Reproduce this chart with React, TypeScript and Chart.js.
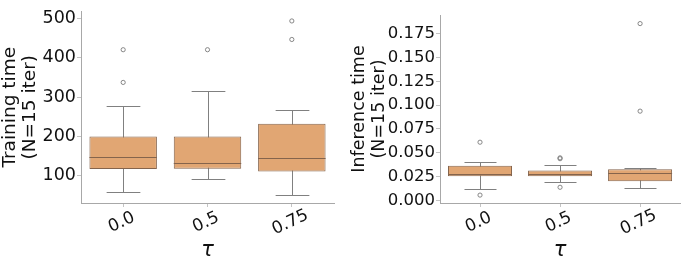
import React, { useEffect, useRef } from 'react';
import { Chart, registerables } from 'chart.js';

Chart.register(...registerables);

const tauLabels = ['0.0', '0.5', '0.75'];

// Training time (left panel)
const trainWhiskerLow = [60, 92, 52];
const trainQ1 = [117, 118, 111];
const trainMedian = [148, 133, 144];
const trainQ3 = [200, 200, 232];
const trainWhiskerHigh = [278, 314, 268];
const trainOutliers = [
  { x: '0.0', y: 420 },
  { x: '0.0', y: 337 },
  { x: '0.5', y: 420 },
  { x: '0.75', y: 446 },
  { x: '0.75', y: 493 },
];
const trainTicks = [100, 200, 300, 400, 500];

// Inference time (right panel)
const inferWhiskerLow = [0.012, 0.0196, 0.0134];
const inferQ1 = [0.0254, 0.0254, 0.02];
const inferMedian = [0.0279, 0.0272, 0.0292];
const inferQ3 = [0.0362, 0.0313, 0.0327];
const inferWhiskerHigh = [0.0406, 0.0372, 0.0341];
const inferOutliers = [
  { x: '0.0', y: 0.061 },
  { x: '0.0', y: 0.0055 },
  { x: '0.5', y: 0.0437 },
  { x: '0.5', y: 0.0446 },
  { x: '0.5', y: 0.0137 },
  { x: '0.75', y: 0.0936 },
  { x: '0.75', y: 0.1855 },
];
const inferTicks = [0, 0.025, 0.05, 0.075, 0.1, 0.125, 0.15, 0.175];

const FONT = '"DejaVu Sans", sans-serif';
const BOX_FILL = '#E1A673';
const BOX_EDGE = '#85644c';
const WHISKER = '#808080';
const AXIS = '#a8a8a8';

type PanelProps = {
  width: number;
  low: number[];
  q1: number[];
  median: number[];
  q3: number[];
  high: number[];
  outliers: { x: string; y: number }[];
  ticks: number[];
  yMin: number;
  yMax: number;
  decimals: number;
  title: string[];
  titleSize: number;
  titlePad: number;
  tickSize: number;
  yWidth: number;
  padTop: number;
  padRight: number;
};

function BoxPanel(p: PanelProps) {
  const ref = useRef<HTMLCanvasElement | null>(null);
  useEffect(() => {
    if (!ref.current) return;
    const parts = {
      id: 'boxparts',
      beforeDatasetsDraw(chart: any) {
        const { ctx } = chart;
        const meta = chart.getDatasetMeta(0);
        const ys = chart.scales.y;
        ctx.save();
        ctx.strokeStyle = WHISKER;
        ctx.lineWidth = 1;
        meta.data.forEach((bar: any, i: number) => {
          const x = Math.round(bar.x) + 0.5;
          const w = bar.width;
          const yl = Math.round(ys.getPixelForValue(p.low[i])) + 0.5;
          const yh = Math.round(ys.getPixelForValue(p.high[i])) + 0.5;
          ctx.beginPath();
          ctx.moveTo(x, yl);
          ctx.lineTo(x, yh);
          ctx.moveTo(x - w / 4, yl);
          ctx.lineTo(x + w / 4, yl);
          ctx.moveTo(x - w / 4, yh);
          ctx.lineTo(x + w / 4, yh);
          ctx.stroke();
        });
        ctx.restore();
      },
      afterDatasetsDraw(chart: any) {
        const { ctx } = chart;
        const meta = chart.getDatasetMeta(0);
        const ys = chart.scales.y;
        ctx.save();
        ctx.strokeStyle = BOX_EDGE;
        ctx.lineWidth = 1;
        meta.data.forEach((bar: any, i: number) => {
          const w = bar.width;
          const ym = Math.round(ys.getPixelForValue(p.median[i])) + 0.5;
          ctx.beginPath();
          ctx.moveTo(bar.x - w / 2, ym);
          ctx.lineTo(bar.x + w / 2, ym);
          ctx.stroke();
        });
        ctx.restore();
      },
      afterDraw(chart: any) {
        const { ctx, chartArea } = chart;
        const xs = chart.scales.x;
        ctx.save();
        ctx.fillStyle = '#111';
        ctx.font = `17px ${FONT}`;
        ctx.textAlign = 'center';
        ctx.textBaseline = 'middle';
        tauLabels.forEach((lab, i) => {
          const px = xs.getPixelForValue(i);
          ctx.save();
          ctx.translate(px - 1.5, chartArea.bottom + 19.5);
          ctx.rotate((-25 * Math.PI) / 180);
          ctx.fillText(lab, 0, 0);
          ctx.restore();
        });
        ctx.restore();
      },
    };

    const chart = new Chart(ref.current, {
      type: 'bar',
      data: {
        labels: tauLabels,
        datasets: [
          {
            type: 'bar',
            data: p.q1.map((v, i) => [v, p.q3[i]]) as any,
            backgroundColor: BOX_FILL,
            borderColor: BOX_EDGE,
            borderWidth: 1,
            borderSkipped: false,
            barPercentage: 0.8,
            categoryPercentage: 1.0,
            grouped: false,
          } as any,
          {
            type: 'scatter',
            data: p.outliers as any,
            pointStyle: 'circle',
            pointRadius: 2.1,
            pointBorderWidth: 0.9,
            pointBackgroundColor: 'rgba(255,255,255,0)',
            pointBorderColor: '#7a7a7a',
            showLine: false,
          } as any,
        ],
      },
      options: {
        animation: false,
        responsive: false,
        maintainAspectRatio: false,
        layout: { padding: { top: p.padTop, right: p.padRight, left: 0, bottom: 0 } },
        plugins: { legend: { display: false }, tooltip: { enabled: false } },
        scales: {
          x: {
            type: 'category',
            offset: true,
            grid: { display: true, drawOnChartArea: false, drawTicks: true, tickLength: 4, color: '#c4c4c4', offset: false },
            border: { display: true, color: AXIS, width: 1 },
            ticks: { color: 'rgba(0,0,0,0)', maxRotation: 0, minRotation: 0, autoSkip: false, font: { family: FONT, size: 16 } },
            title: {
              display: true,
              text: 'τ',
              color: '#111',
              font: { family: FONT, size: 21, style: 'italic', lineHeight: '16px' } as any,
              padding: { top: 0, bottom: 0 },
            },
            afterFit: (s: any) => {
              s.height = 56;
            },
          },
          y: {
            type: 'linear',
            min: p.yMin,
            max: p.yMax,
            afterBuildTicks: (s: any) => {
              s.ticks = p.ticks.map((v) => ({ value: v }));
            },
            grid: { display: true, drawOnChartArea: false, drawTicks: true, tickLength: 4, color: '#c4c4c4' },
            border: { display: true, color: AXIS, width: 1 },
            ticks: {
              color: '#111',
              padding: 1,
              font: { family: FONT, size: p.tickSize },
              callback: (v: any) => Number(v).toFixed(p.decimals),
            },
            title: {
              display: true,
              text: p.title,
              color: '#111',
              font: { family: FONT, size: p.titleSize, lineHeight: '20px' } as any,
              padding: { top: p.titlePad, bottom: 0 },
            },
            afterFit: (s: any) => {
              s.width = p.yWidth;
            },
          },
        },
      },
      plugins: [parts],
    });
    return () => chart.destroy();
  }, []);
  return <canvas ref={ref} width={p.width} height={259} style={{ display: 'block' }} />;
}

export default function App() {
  return (
    <div style={{ position: 'absolute', left: 0, top: 0, width: 685, height: 259, display: 'flex', background: '#fff' }}>
      <BoxPanel
        width={340}
        low={trainWhiskerLow}
        q1={trainQ1}
        median={trainMedian}
        q3={trainQ3}
        high={trainWhiskerHigh}
        outliers={trainOutliers}
        ticks={trainTicks}
        yMin={31}
        yMax={517}
        decimals={0}
        title={['Training time', '(N=15 iter)']}
        titleSize={18.5}
        titlePad={0}
        tickSize={17.5}
        yWidth={81}
        padTop={2}
        padRight={6}
      />
      <BoxPanel
        width={345}
        low={inferWhiskerLow}
        q1={inferQ1}
        median={inferMedian}
        q3={inferQ3}
        high={inferWhiskerHigh}
        outliers={inferOutliers}
        ticks={inferTicks}
        yMin={-0.0028}
        yMax={0.1945}
        decimals={3}
        title={['Inference time', '(N=15 iter)']}
        titleSize={17.5}
        titlePad={9}
        tickSize={16.5}
        yWidth={100}
        padTop={15}
        padRight={2}
      />
    </div>
  );
}
